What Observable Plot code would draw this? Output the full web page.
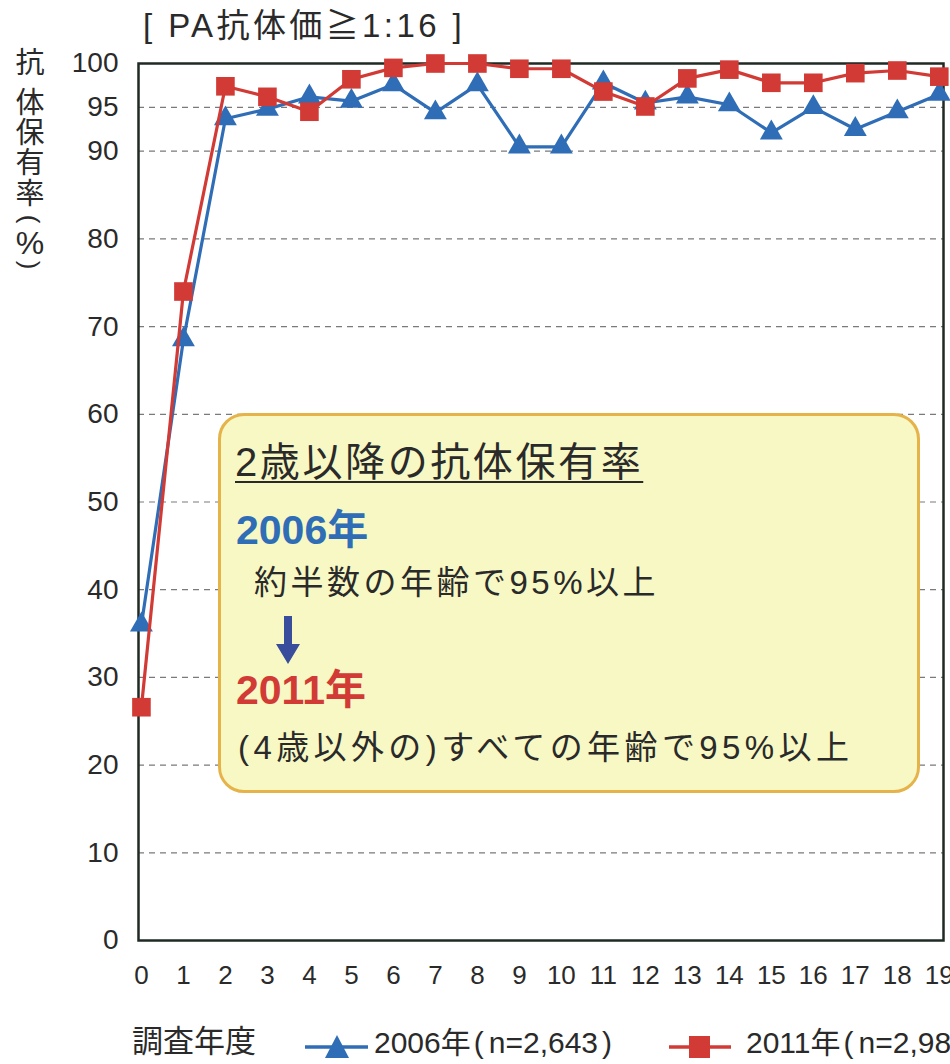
<!DOCTYPE html>
<html>
<head>
<meta charset="utf-8">
<script src="https://cdn.jsdelivr.net/npm/d3@7"></script>
<script src="https://cdn.jsdelivr.net/npm/@observablehq/plot@0.6"></script>
<style>
  html, body { margin: 0; padding: 0; background: #fff; }
  #wrap { position: relative; width: 950px; height: 1064px; overflow: hidden; background: #fff;
          font-family: "Liberation Sans", "Noto Sans CJK JP", sans-serif; color: #2a2a2a; }
  #chart { position: absolute; left: 0; top: 0; }
  .abs { position: absolute; white-space: nowrap; line-height: 1; }
  .ylab span { position: absolute; left: 0; width: 30px; text-align: center; font-size: 29px; line-height: 1; display: block; }
  .pl { margin-left: 3px; margin-right: 5px; }
  .pr { margin-left: 4px; }
</style>
</head>
<body>
<div id="wrap">
  <div id="chart"></div>
  <div class="abs" id="title" style="left:143px; top:9px; font-size:33px; letter-spacing:3.4px;">[ PA抗体価≧1:16 ]</div>
  <div class="abs ylab" id="ylab" style="left:15px; top:0;"></div>

  <div class="abs" id="note" style="left:218px; top:413px; width:702px; height:380px; background:#f7f8c4; border:3px solid #e6b34a; border-radius:26px; box-sizing:border-box;"></div>
  <div class="abs" style="left:235px; top:442px; font-size:40px; letter-spacing:2.6px; text-decoration:underline; text-decoration-thickness:2px; text-underline-offset:5px;">2歳以降の抗体保有率</div>
  <div class="abs" style="left:236px; top:510px; font-size:41px; font-weight:bold; color:#2f6db6;">2006年</div>
  <div class="abs" style="left:254px; top:566px; font-size:33px; letter-spacing:3.5px;">約半数の年齢で95%以上</div>
  <svg class="abs" style="left:274px; top:616px;" width="28" height="50"><path d="M10,0 H18 V28 H26 L14,48 L2,28 H10 Z" fill="#3a4d9c"/></svg>
  <div class="abs" style="left:236px; top:670px; font-size:41px; font-weight:bold; color:#d23a35;">2011年</div>
  <div class="abs" style="left:238px; top:731px; font-size:33px; letter-spacing:4.4px;">(4歳以外の)すべての年齢で95%以上</div>

  <div class="abs" style="left:132px; top:1026px; font-size:31px;">調査年度</div>
  <svg class="abs" style="left:304px; top:1030px;" width="66" height="32"><line x1="1" y1="17" x2="64" y2="17" stroke="#2f6db6" stroke-width="3.5"/><path d="M33,5 L45,28 L21,28 Z" fill="#2f6db6"/></svg>
  <div class="abs" style="left:374px; top:1028px; font-size:30px;">2006年<span class="pl">(</span>n=2,643<span class="pr">)</span></div>
  <svg class="abs" style="left:668px; top:1030px;" width="66" height="32"><line x1="1" y1="17" x2="63" y2="17" stroke="#d23a35" stroke-width="3.5"/><rect x="21" y="6" width="21" height="22" fill="#d23a35"/></svg>
  <div class="abs" style="left:746px; top:1028px; font-size:30px;">2011年<span class="pl">(</span>n=2,98</div>
</div>
<script>
// ---- data ----
const ages = [0, 1, 2, 3, 4, 5, 6, 7, 8, 9, 10, 11, 12, 13, 14, 15, 16, 17, 18, 19];
const rate2006 = [36.0, 68.5, 93.7, 94.8, 96.2, 95.7, 97.6, 94.4, 97.6, 90.5, 90.5, 97.8, 95.5, 96.2, 95.3, 92.1, 95.0, 92.5, 94.5, 96.5];
const rate2011 = [26.6, 74.0, 97.4, 96.2, 94.5, 98.2, 99.5, 100, 100, 99.4, 99.4, 96.8, 95.1, 98.3, 99.3, 97.8, 97.8, 98.9, 99.2, 98.5];
const yTicks = [0, 10, 20, 30, 40, 50, 60, 70, 80, 90, 95, 100];
const yGrid = [10, 20, 30, 40, 50, 60, 70, 80, 90, 95];
const yLabelChars = ["抗", "体", "保", "有", "率", "(", "%", ")"];

const blue = "#2f6db6";
const red = "#d23a35";

const d2006 = ages.map((a, i) => ({age: a, rate: rate2006[i]}));
const d2011 = ages.map((a, i) => ({age: a, rate: rate2011[i]}));

const chart = Plot.plot({
  width: 950,
  height: 1064,
  marginTop: 63,
  marginBottom: 124,
  marginLeft: 138,
  marginRight: 7,
  style: {fontFamily: "'Liberation Sans', 'Noto Sans CJK JP', sans-serif", background: "transparent", color: "#2a2a2a"},
  x: {domain: [-0.07, 19.1]},
  y: {domain: [0, 100]},
  marks: [
    Plot.gridY(yGrid, {stroke: "#7a7a7a", strokeOpacity: 1, strokeWidth: 1.2, strokeDasharray: "6,5"}),
    Plot.frame({stroke: "#1f2a25", strokeWidth: 2.5}),
    Plot.axisY(yTicks, {tickSize: 0, tickPadding: 20, fontSize: 28, label: null, fill: "#2a2a2a"}),
    Plot.axisX(ages, {tickSize: 0, tickPadding: 25, fontSize: 26, label: null, fill: "#2a2a2a"}),
    Plot.line(d2006, {x: "age", y: "rate", stroke: blue, strokeWidth: 3.2}),
    Plot.dot(d2006, {x: "age", y: "rate", symbol: "triangle", r: 8.5, fill: blue}),
    Plot.line(d2011, {x: "age", y: "rate", stroke: red, strokeWidth: 3.2}),
    Plot.dot(d2011, {x: "age", y: "rate", symbol: "square", r: 10.5, fill: red})
  ]
});
document.getElementById("chart").appendChild(chart);

// vertical y-axis label (glyph centres)
const ylab = document.getElementById("ylab");
const yCenters = [65, 105, 135, 165, 196, 219, 243, 265];
yLabelChars.forEach((c, i) => {
  const s = document.createElement("span");
  s.textContent = c;
  let fs = 29;
  if (c === "(" || c === ")") { s.style.transform = "rotate(90deg)"; fs = 26; }
  if (c === "%") { fs = 32; }
  s.style.fontSize = fs + "px";
  s.style.top = (yCenters[i] - (c.match(/[()%]/) ? 0.5 : 0.54) * fs) + "px";
  ylab.appendChild(s);
});
</script>
</body>
</html>
